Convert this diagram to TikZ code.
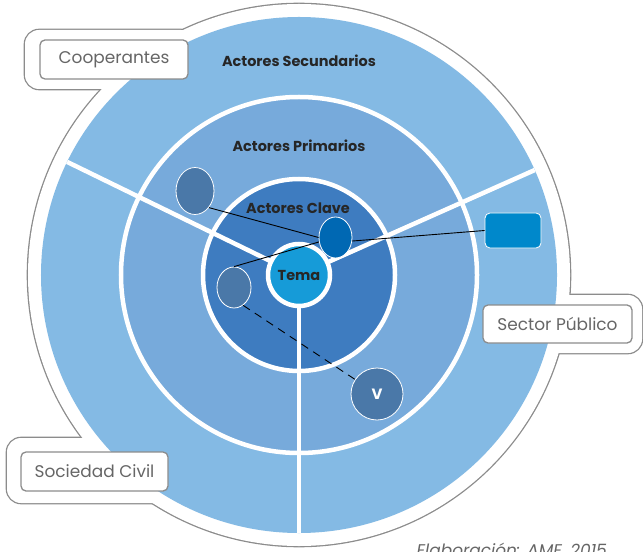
\documentclass[tikz,border=0pt]{standalone}
\usepackage{fontspec}
\setmainfont{Poppins}
\usetikzlibrary{calc,positioning,shapes.geometric}

\definecolor{outline}{HTML}{8C8C8C}
\definecolor{ringsec}{HTML}{84BAE4}
\definecolor{ringpri}{HTML}{77AADB}
\definecolor{ringkey}{HTML}{3E7CC0}
\definecolor{temablue}{HTML}{169BD8}
\definecolor{actorblue}{HTML}{4A78A8}
\definecolor{keyactor}{HTML}{0068B3}
\definecolor{pubblue}{HTML}{0088CB}
\definecolor{taggray}{HTML}{666666}

\begin{document}
\begin{tikzpicture}[
        x=1bp, y=-1bp,
        rim/.style={draw=outline, line width=2.6bp},
        callout/.style={rounded corners=14bp},
        tag/.style={draw=outline, line width=1.3bp, fill=white, rounded corners=5bp, text=taggray, inner sep=0pt, minimum height=39bp, font=\fontsize{17}{19}\selectfont},
        ring/.style={font=\bfseries\fontsize{14.5}{16}\selectfont, text=black!85},
        actor/.style={ellipse, draw=white, line width=0.8bp, fill=actorblue, inner sep=0pt},
        link/.style={black, line width=0.9bp},
        spoke/.style={white, line width=4.5bp},
    ]
    \useasboundingbox (0,0) rectangle (643,552);
    \clip (0,0) rectangle (643,552);

    \coordinate (c) at (299,275);

    % Outline
    \draw[rim] (c) circle[radius=271bp];
    \draw[rim, callout] (25,30) rectangle (195,89);
    \draw[rim, callout] (7,438) rectangle (170,503);
    \draw[rim, callout] (470,295) rectangle (642,353);
    \fill[white] (c) circle[radius=271bp];
    \fill[white, callout] (25,30) rectangle (195,89);
    \fill[white, callout] (7,438) rectangle (170,503);
    \fill[white, callout] (470,295) rectangle (642,353);

    % Rings
    \fill[ringsec] (c) circle[radius=258bp];
    \draw[spoke, fill=ringpri] (c) circle[radius=178bp];
    \draw[spoke, fill=ringkey] (c) circle[radius=96bp];
    \draw[spoke] (c) -- ++(-154:258);
    \draw[spoke] (c) -- ++(-24:258);
    \draw[spoke] (c) -- ++(90:258);
    \node[circle, draw=white, line width=4.5bp, fill=temablue, minimum size=62bp, inner sep=0pt, ring] (tema) at (c) {Tema};

    \node[ring] (sec) at (299,61) {Actores Secundarios};
    \node[ring] (pri) at (299,146) {Actores Primarios};
    \node[ring] (key) at (298,208) {Actores Clave};

    % Actors
    \node[actor, minimum width=38bp, minimum height=47bp] (e1) at (195,191) {};
    \node[actor, fill=keyactor, minimum width=33bp, minimum height=41bp] (e2) at (335.5,237.5) {};
    \node[actor, minimum width=34bp, minimum height=41bp] (e3) at (234,287.5) {};
    \node[actor, circle, minimum size=52bp, text=white, font=\bfseries\fontsize{15}{17}\selectfont] (v) at (377,394) {V};
    \node[draw=white, line width=0.8bp, fill=pubblue, rounded corners=5bp, minimum width=56bp, minimum height=35bp] (pub) at (513,230.5) {};

    \draw[link] (e1.-50) -- (e2.west);
    \draw[link] (e3.north) -- (e2.195);
    \draw[link] (e2.-12) -- (pub.west);
    \draw[link, dash pattern=on 8bp off 6bp] (e3.-63) -- (v);

    % Labels
    \node[tag, minimum width=148bp] (coop) at (114,59.5) {Cooperantes};
    \node[tag, minimum width=147bp] (soc) at (94.5,471.5) {Sociedad Civil};
    \node[tag, minimum width=149bp, minimum height=38bp] (sector) at (557.5,324) {Sector Público};

    \node[anchor=base west, text=taggray, font=\itshape\fontsize{17}{19}\selectfont] (src) at (413,556) {Elaboración: AME, 2015};
\end{tikzpicture}
\end{document}
